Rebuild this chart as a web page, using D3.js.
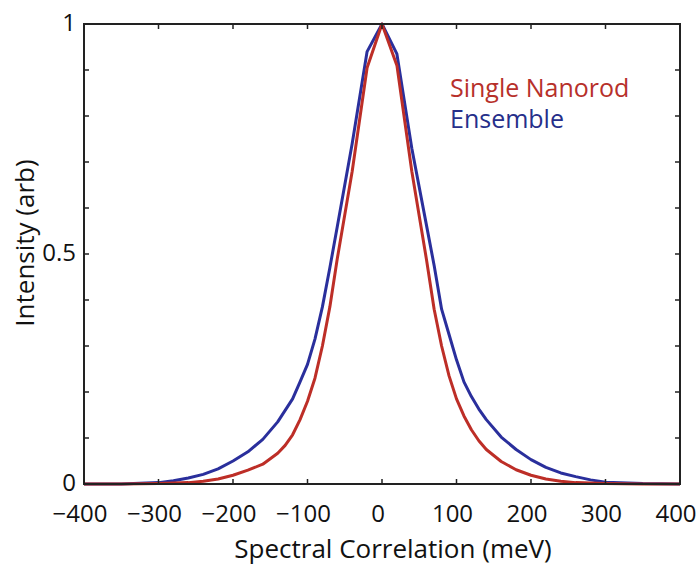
<!DOCTYPE html>
<html>
<head>
<meta charset="utf-8">
<script src="https://cdn.jsdelivr.net/npm/d3@7"></script>
<style>
  body { margin: 0; background: #fff; }
  svg { display: block; }
  text { font-family: "Open Sans", "Noto Sans", sans-serif; }
</style>
</head>
<body>
<script>
// energy offsets (meV), shared by both curves
var energy = [-400, -350, -300, -280, -260, -240, -220, -200, -180, -160, -140, -130, -120, -110,
              -100, -90, -80, -70, -60, -40, -20, 0, 20, 40, 60, 70, 80, 90, 100, 110, 120, 130,
              140, 160, 180, 200, 220, 240, 260, 280, 300, 350, 400];

var single_nanorod = [0, 0, 0.001, 0.002, 0.003, 0.006, 0.011, 0.019, 0.03, 0.043, 0.067, 0.084, 0.107, 0.14,
                      0.18, 0.23, 0.30, 0.385, 0.49, 0.68, 0.905, 1, 0.91, 0.68, 0.485, 0.38, 0.30, 0.235, 0.185, 0.148, 0.118, 0.094,
                      0.075, 0.049, 0.031, 0.019, 0.011, 0.006, 0.003, 0.002, 0.001, 0, 0];

var ensemble = [0, 0, 0.003, 0.007, 0.013, 0.021, 0.033, 0.05, 0.07, 0.097, 0.135, 0.16, 0.185, 0.222,
                0.26, 0.315, 0.385, 0.47, 0.56, 0.74, 0.94, 1, 0.935, 0.73, 0.56, 0.475, 0.38, 0.325, 0.27, 0.222, 0.19, 0.163,
                0.14, 0.102, 0.075, 0.053, 0.036, 0.024, 0.016, 0.009, 0.004, 0.001, 0];

var x_ticks = [-400, -300, -200, -100, 0, 100, 200, 300, 400];
var y_ticks = [0, 0.1, 0.2, 0.3, 0.4, 0.5, 0.6, 0.7, 0.8, 0.9, 1];
var y_tick_labels = {0: "0", 0.5: "0.5", 1: "1"};

var series_names = ["Ensemble", "Single Nanorod"];
var series_colors = {"Single Nanorod": "#bd2e27", "Ensemble": "#2a2f9c"};
var label_colors = {"Single Nanorod": "#b7302a", "Ensemble": "#262f8a"};

var w = 698, h = 565;
var plot_left = 84, plot_right = 680, plot_top = 24, plot_bottom = 484;
var axis_color = "#222";
var text_color = "#111";
var tick_len = 5;

var svg = d3.select("body").append("svg").attr("width", w).attr("height", h);

var x = d3.scaleLinear().domain([-400, 400]).range([plot_left, plot_right]);
var y = d3.scaleLinear().domain([0, 1]).range([plot_bottom, plot_top]);

// curves (ensemble first so the red one sits on top)
var line_gen = function(vals){
  return d3.line()
    .x(function(d, i){ return x(energy[i]); })
    .y(function(d){ return y(d); })(vals);
};
var series_vals = {"Single Nanorod": single_nanorod, "Ensemble": ensemble};

series_names.forEach(function(name){
  svg.append("path")
    .attr("d", line_gen(series_vals[name]))
    .attr("fill", "none")
    .attr("stroke", series_colors[name])
    .attr("stroke-width", 3)
    .attr("stroke-linejoin", "round");
});

// frame
svg.append("rect")
  .attr("x", plot_left).attr("y", plot_top)
  .attr("width", plot_right - plot_left).attr("height", plot_bottom - plot_top)
  .attr("fill", "none")
  .attr("stroke", axis_color)
  .attr("stroke-width", 2);

// inward ticks on all four sides
x_ticks.forEach(function(t){
  svg.append("line").attr("x1", x(t)).attr("x2", x(t))
    .attr("y1", plot_bottom).attr("y2", plot_bottom - tick_len)
    .attr("stroke", axis_color).attr("stroke-width", 1.5);
  svg.append("line").attr("x1", x(t)).attr("x2", x(t))
    .attr("y1", plot_top).attr("y2", plot_top + tick_len)
    .attr("stroke", axis_color).attr("stroke-width", 1.5);
  svg.append("text")
    .attr("x", x(t) - 4).attr("y", plot_bottom + 38)
    .attr("text-anchor", "middle")
    .attr("font-size", 24)
    .attr("fill", text_color)
    .text(t < 0 ? "\u2212" + Math.abs(t) : String(t));
});

y_ticks.forEach(function(t){
  svg.append("line").attr("x1", plot_left).attr("x2", plot_left + tick_len)
    .attr("y1", y(t)).attr("y2", y(t))
    .attr("stroke", axis_color).attr("stroke-width", 1.5);
  svg.append("line").attr("x1", plot_right).attr("x2", plot_right - tick_len)
    .attr("y1", y(t)).attr("y2", y(t))
    .attr("stroke", axis_color).attr("stroke-width", 1.5);
  if (y_tick_labels[t] !== undefined){
    svg.append("text")
      .attr("x", plot_left - 8).attr("y", y(t) - 2)
      .attr("dy", "0.36em")
      .attr("text-anchor", "end")
      .attr("font-size", 24)
      .attr("fill", text_color)
      .text(y_tick_labels[t]);
  }
});

// axis titles
svg.append("text")
  .attr("x", 393).attr("y", 558)
  .attr("text-anchor", "middle")
  .attr("font-size", 26)
  .attr("fill", text_color)
  .text("Spectral Correlation (meV)");

svg.append("text")
  .attr("transform", "translate(34,243) rotate(-90)")
  .attr("text-anchor", "middle")
  .attr("font-size", 26)
  .attr("fill", text_color)
  .text("Intensity (arb)");

// legend text
svg.append("text")
  .attr("x", 450).attr("y", 97)
  .attr("font-size", 25)
  .attr("fill", label_colors["Single Nanorod"])
  .text("Single Nanorod");

svg.append("text")
  .attr("x", 450).attr("y", 128)
  .attr("font-size", 25)
  .attr("fill", label_colors["Ensemble"])
  .text("Ensemble");
</script>
</body>
</html>
